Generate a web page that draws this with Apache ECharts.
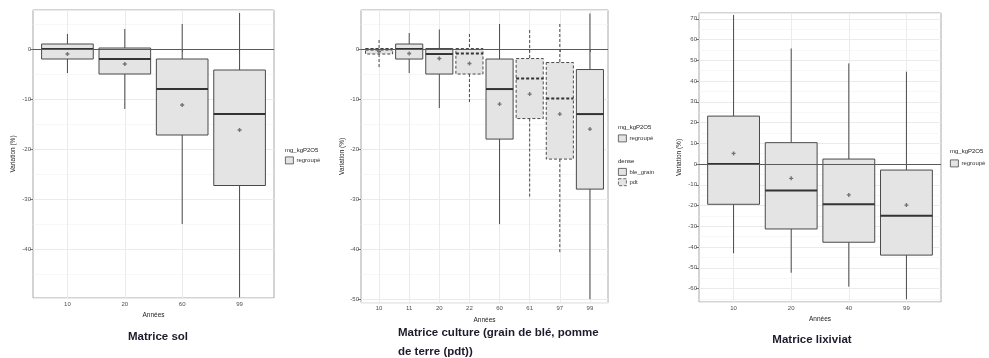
<!DOCTYPE html>
<html>
<head>
<meta charset="utf-8">
<script src="https://cdn.jsdelivr.net/npm/echarts@6/dist/echarts.min.js"></script>
<style>
  html, body { margin: 0; padding: 0; background: #ffffff; }
  #chart { width: 989px; height: 358px; }
</style>
</head>
<body>
<div id="chart"></div>
<script>
// ---- Matrice sol: yearly variation of mg_kgP2O5 (%) ----
// each box: [lower whisker, Q1, median, Q3, upper whisker]
const solYears = ['10', '20', '60', '99'];
const solBoxes = [
  [-4.8, -2, 0, 1, 3],
  [-12, -5, -2, 0.2, 4],
  [-35, -17.2, -8, -2, 5],
  [-49.7, -27.3, -13, -4.2, 7.2]
];
const solMeans = [-1, -3, -11.2, -16.2];

// ---- Matrice culture (blé grain / pomme de terre) ----
const cultureYears = ['10', '11', '20', '22', '60', '61', '97', '99'];
const cultureDense = ['pdt', 'ble_grain', 'ble_grain', 'pdt', 'ble_grain', 'pdt', 'pdt', 'ble_grain'];
const cultureBoxes = [
  [-3.7, -1, -0.1, 0.1, 1.8],
  [-4.8, -2, 0, 1, 3.2],
  [-11.8, -5, -1, 0.1, 3.9],
  [-10.8, -5, -0.9, 0.1, 3],
  [-35, -18, -8, -2, 5],
  [-29.9, -13.9, -5.9, -1.9, 3.8],
  [-40.8, -22, -9.9, -2.7, 5],
  [-50, -28, -13, -4.1, 7.1]
];
const cultureMeans = [-0.5, -0.9, -1.9, -2.9, -11, -9, -13, -16];

// ---- Matrice lixiviat ----
const lixYears = ['10', '20', '40', '99'];
const lixBoxes = [
  [-43, -19.4, 0, 23.1, 71.8],
  [-52.4, -31.3, -12.8, 10.3, 55.7],
  [-59.1, -37.7, -19.4, 2.4, 48.5],
  [-65.2, -43.9, -24.9, -2.9, 44.5]
];
const lixMeans = [5.1, -6.9, -14.9, -19.8];

// ---- styling ----
const FONT = 'Liberation Sans, Arial, sans-serif';
const BOX_FILL = '#e4e4e4';
const BOX_EDGE = '#4a4a4a';
const GRID_LINE = '#ebebeb';
const TICK_TEXT = '#4d4d4d';

// panel rectangles (plot area) and value ranges
const PANELS = [
  { left: 33,  right: 274, top: 10, bottom: 298,   yMin: -49.8, yMax: 7.8,
    years: solYears, boxes: solBoxes, means: solMeans, dense: null, yGap: 16 },
  { left: 361, right: 608, top: 10, bottom: 302.7, yMin: -50.7, yMax: 7.8,
    years: cultureYears, boxes: cultureBoxes, means: cultureMeans, dense: cultureDense, yGap: 15 },
  { left: 699, right: 941, top: 13, bottom: 302,   yMin: -66.5, yMax: 72.8,
    years: lixYears, boxes: lixBoxes, means: lixMeans, dense: null, yGap: 16 }
];

// draws a ggplot-style box: no whisker caps, thicker median, dashed for pdt
function boxRenderer(dense) {
  return function (params, api) {
    const i = api.value(0);
    const lo = api.coord([i, api.value(1)]);
    const q1 = api.coord([i, api.value(2)]);
    const md = api.coord([i, api.value(3)]);
    const q3 = api.coord([i, api.value(4)]);
    const hi = api.coord([i, api.value(5)]);
    const w = api.size([1, 0])[0] * 0.9;
    const dash = dense && dense[params.dataIndex] === 'pdt' ? [3, 2] : null;
    const seg = (a, b, lw) => ({
      type: 'line',
      shape: { x1: a[0], y1: a[1], x2: b[0], y2: b[1] },
      style: { stroke: BOX_EDGE, lineWidth: lw, lineDash: dash }
    });
    return {
      type: 'group',
      children: [
        seg(hi, q3, 1),
        seg(q1, lo, 1),
        {
          type: 'rect',
          shape: { x: q3[0] - w / 2, y: q3[1], width: w, height: q1[1] - q3[1] },
          style: { fill: BOX_FILL, stroke: BOX_EDGE, lineWidth: 1, lineDash: dash }
        },
        {
          type: 'line',
          shape: { x1: md[0] - w / 2, y1: md[1], x2: md[0] + w / 2, y2: md[1] },
          style: { stroke: '#333333', lineWidth: 2, lineDash: dash }
        }
      ]
    };
  };
}

const grid = [], xAxis = [], yAxis = [], series = [];

PANELS.forEach((p, k) => {
  const n = p.years.length;
  const unit = (p.right - p.left) / (n + 0.2);
  const height = p.bottom - p.top;
  const frameGrid = grid.length;
  grid.push({
    left: p.left, top: p.top, width: p.right - p.left, height: height,
    show: true, borderColor: '#a8a8a8', borderWidth: 1, backgroundColor: '#ffffff',
    outerBoundsMode: 'none', containLabel: false
  });
  const dataGrid = grid.length;
  grid.push({
    left: p.left + 0.1 * unit, top: p.top, width: n * unit, height: height,
    outerBoundsMode: 'none', containLabel: false
  });

  const frameX = xAxis.length;
  xAxis.push({ type: 'value', gridIndex: frameGrid, position: 'bottom', min: 0, max: 1, show: false });
  const dataX = xAxis.length;
  xAxis.push({
    type: 'category', gridIndex: dataGrid, position: 'bottom', data: p.years,
    axisLine: { show: false },
    axisTick: { show: true, alignWithLabel: true, length: 3, lineStyle: { color: '#555', width: 0.8 } },
    axisLabel: { fontSize: 6, color: TICK_TEXT, margin: 3, fontFamily: FONT },
    splitLine: { show: true, alignWithLabel: true, lineStyle: { color: GRID_LINE, width: 1 } },
    name: 'Années', nameLocation: 'middle', nameGap: 12,
    nameTextStyle: { fontSize: 6.5, color: '#222', fontFamily: FONT }
  });

  const minorY = yAxis.length;
  yAxis.push({
    type: 'value', gridIndex: frameGrid, position: 'left', min: p.yMin, max: p.yMax,
    minInterval: 5, maxInterval: 5,
    axisLine: { show: false }, axisTick: { show: false }, axisLabel: { show: false },
    splitLine: { show: true, lineStyle: { color: '#f1f1f1', width: 0.6 } }
  });
  const majorY = yAxis.length;
  yAxis.push({
    type: 'value', gridIndex: frameGrid, position: 'left', min: p.yMin, max: p.yMax,
    minInterval: 10, maxInterval: 10,
    axisLine: { show: false },
    axisTick: { show: true, length: 3, lineStyle: { color: '#555', width: 0.8 } },
    axisLabel: { fontSize: 6, color: TICK_TEXT, margin: 2, fontFamily: FONT,
                 showMinLabel: false, showMaxLabel: false },
    splitLine: { show: true, lineStyle: { color: GRID_LINE, width: 1 } },
    name: 'Variation (%)', nameLocation: 'middle', nameGap: p.yGap, nameRotate: 90,
    nameTextStyle: { fontSize: 6.5, color: '#222', fontFamily: FONT }
  });
  const dataY = yAxis.length;
  yAxis.push({ type: 'value', gridIndex: dataGrid, position: 'left', min: p.yMin, max: p.yMax, show: false });

  series.push({
    name: 'regroupé',
    type: 'custom',
    xAxisIndex: dataX, yAxisIndex: dataY,
    renderItem: boxRenderer(p.dense),
    encode: { x: 0, y: [1, 2, 3, 4, 5] },
    data: p.boxes.map((b, i) => [i].concat(b)),
    silent: true, z: 2
  });
  series.push({
    name: 'moyenne',
    type: 'scatter',
    xAxisIndex: dataX, yAxisIndex: dataY,
    symbol: 'path://M1,0H2V1H3V2H2V3H1V2H0V1H1Z',
    symbolSize: 4,
    itemStyle: { color: '#555555' },
    data: p.means,
    silent: true, z: 3
  });
  // reference line at zero variation
  series.push({
    name: 'ref0',
    type: 'line',
    xAxisIndex: frameX, yAxisIndex: majorY,
    data: [],
    silent: true,
    markLine: {
      silent: true, symbol: 'none', z: 10,
      label: { show: false },
      lineStyle: { color: '#5a5a5a', type: 'solid', width: 1 },
      data: [{ yAxis: 0 }]
    }
  });
  if (p.dense) {
    series.push({ name: 'ble_grain', type: 'line', xAxisIndex: dataX, yAxisIndex: dataY, data: [] });
    series.push({ name: 'pdt', type: 'line', xAxisIndex: dataX, yAxisIndex: dataY, data: [] });
  }
});

const keyStyle = { color: BOX_FILL, borderColor: BOX_EDGE, borderWidth: 0.8 };
const legendBase = {
  orient: 'vertical', padding: 0, itemWidth: 8, itemHeight: 7, itemGap: 2.5,
  selectedMode: false,
  textStyle: { fontSize: 6, color: '#333', fontFamily: FONT, padding: [0, 0, 0, -2] }
};

const titleStyle = { fontSize: 11.5, fontWeight: 'bold', color: '#1c1c2c', fontFamily: FONT };
const smallStyle = { fontSize: 6, fontWeight: 'normal', color: '#222', fontFamily: FONT };

const option = {
  animation: false,
  backgroundColor: '#ffffff',
  title: [
    { text: 'Matrice sol', left: 158, top: 331, textAlign: 'center', padding: 0, textStyle: titleStyle },
    { text: 'Matrice culture (grain de blé, pomme\nde terre (pdt))', left: 398, top: 323.5, padding: 0,
      textStyle: Object.assign({ lineHeight: 19 }, titleStyle) },
    { text: 'Matrice lixiviat', left: 812, top: 334, textAlign: 'center', padding: 0, textStyle: titleStyle },
    { text: 'mg_kgP2O5', left: 285, top: 147, padding: 0, textStyle: smallStyle },
    { text: 'mg_kgP2O5', left: 618, top: 124, padding: 0, textStyle: smallStyle },
    { text: 'dense', left: 618, top: 158, padding: 0, textStyle: smallStyle },
    { text: 'mg_kgP2O5', left: 950, top: 148, padding: 0, textStyle: smallStyle }
  ],
  legend: [
    Object.assign({}, legendBase, { left: 285, top: 156.5,
      data: [{ name: 'regroupé', icon: 'rect', itemStyle: keyStyle }] }),
    Object.assign({}, legendBase, { left: 618, top: 134.5,
      data: [{ name: 'regroupé', icon: 'rect', itemStyle: keyStyle }] }),
    Object.assign({}, legendBase, { left: 618, top: 168,
      data: [
        { name: 'ble_grain', icon: 'rect', itemStyle: keyStyle },
        { name: 'pdt', icon: 'rect', itemStyle: Object.assign({ borderType: 'dashed' }, keyStyle) }
      ] }),
    Object.assign({}, legendBase, { left: 950, top: 159.5,
      data: [{ name: 'regroupé', icon: 'rect', itemStyle: keyStyle }] })
  ],
  grid: grid,
  xAxis: xAxis,
  yAxis: yAxis,
  series: series
};

const chart = echarts.init(document.getElementById('chart'), null, { renderer: 'canvas' });
chart.setOption(option);
</script>
</body>
</html>
